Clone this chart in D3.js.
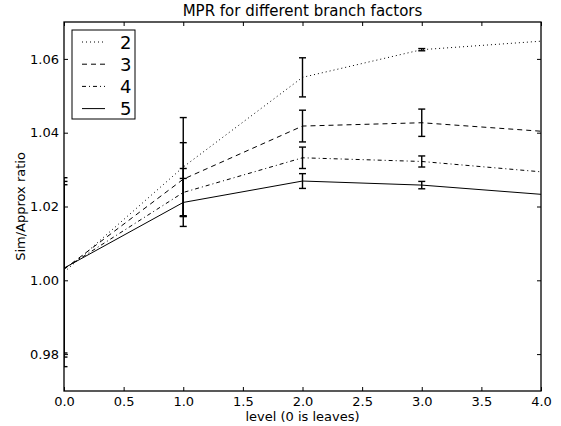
<!DOCTYPE html>
<html><head><meta charset="utf-8">
<script src="https://cdn.jsdelivr.net/npm/d3@7"></script>
<style>body{margin:0;background:#fff}svg{display:block}</style>
</head><body>
<svg id="c" width="561" height="426"></svg>
<script>
const levels = [0, 1, 2, 3, 4];
const seriesNames = ["2", "3", "4", "5"];
const values2 = [1.0022, 1.0307, 1.0550, 1.0625, 1.0648];
const values3 = [1.0030, 1.0274, 1.0418, 1.0427, 1.0404];
const values4 = [1.0031, 1.0238, 1.0332, 1.0322, 1.0294];
const values5 = [1.0033, 1.0211, 1.0269, 1.0258, 1.0233];
const errors2 = [0.0256, 0.0134, 0.0053, 0.0003, 0];
const errors3 = [0.0238, 0.0099, 0.0043, 0.0037, 0];
const errors4 = [0.0228, 0.0065, 0.0029, 0.0015, 0];
const errors5 = [0, 0.0065, 0.0020, 0.0010, 0];
const xTicks = [0, 0.5, 1, 1.5, 2, 2.5, 3, 3.5, 4];
const yTicks = [0.98, 1.00, 1.02, 1.04, 1.06];
const title = "MPR for different branch factors";
const xLabel = "level (0 is leaves)";
const yLabel = "Sim/Approx ratio";

const dashes = [ "1,3", "5,4", "4,3,1,3", null ];
const series = [
  {name: seriesNames[0], v: values2, e: errors2, dash: dashes[0]},
  {name: seriesNames[1], v: values3, e: errors3, dash: dashes[1]},
  {name: seriesNames[2], v: values4, e: errors4, dash: dashes[2]},
  {name: seriesNames[3], v: values5, e: errors5, dash: dashes[3]}
];

const L = 64, R = 541, T = 22, B = 391;
const svg = d3.select("#c");
const font = "DejaVu Sans";
const x = d3.scaleLinear().domain([0, 4]).range([L, R]);
const y = d3.scaleLinear().domain([0.97, 1.07]).range([B, T]);

svg.append("defs").append("clipPath").attr("id", "clip")
  .append("rect").attr("x", L).attr("y", T).attr("width", R - L).attr("height", B - T);

const plot = svg.append("g").attr("clip-path", "url(#clip)");
const line = d3.line().x((d, i) => x(levels[i])).y(d => y(d));

series.forEach(s => {
  plot.append("path").datum(s.v).attr("d", line)
    .attr("fill", "none").attr("stroke", "#000").attr("stroke-width", 1)
    .attr("stroke-dasharray", s.dash);
});
series.forEach(s => {
  const g = plot.append("g").attr("stroke", "#000").attr("stroke-width", 1.4);
  s.v.forEach((v, i) => {
    const e = s.e[i];
    if (e <= 0) return;
    const cx = x(levels[i]);
    g.append("line").attr("x1", cx).attr("x2", cx).attr("y1", y(v - e)).attr("y2", y(v + e));
    [v - e, v + e].forEach(c => {
      g.append("line").attr("x1", cx - 3.5).attr("x2", cx + 3.5).attr("y1", y(c)).attr("y2", y(c));
    });
  });
});

// axes
const fmtX = d3.format(".1f"), fmtY = d3.format(".2f");
const axB = svg.append("g").attr("transform", `translate(0,${B})`)
  .call(d3.axisBottom(x).tickValues(xTicks).tickFormat(fmtX).tickSize(-4).tickPadding(6));
const axT = svg.append("g").attr("transform", `translate(0,${T})`)
  .call(d3.axisTop(x).tickValues(xTicks).tickFormat("").tickSize(-4));
const axL = svg.append("g").attr("transform", `translate(${L},0)`)
  .call(d3.axisLeft(y).tickValues(yTicks).tickFormat(fmtY).tickSize(-4).tickPadding(5));
const axR = svg.append("g").attr("transform", `translate(${R},0)`)
  .call(d3.axisRight(y).tickValues(yTicks).tickFormat("").tickSize(-4));
[axB, axT, axL, axR].forEach(a => {
  a.select(".domain").remove();
  a.selectAll("line").attr("stroke", "#000").attr("stroke-width", 1);
  a.selectAll("text").attr("font-family", font).attr("font-size", 13).attr("fill", "#000");
});
svg.append("rect").attr("x", L).attr("y", T).attr("width", R - L).attr("height", B - T)
  .attr("fill", "none").attr("stroke", "#000").attr("stroke-width", 1.3);

svg.append("text").attr("x", (L + R) / 2).attr("y", 16).attr("text-anchor", "middle")
  .attr("font-family", font).attr("font-size", 15).text(title);
svg.append("text").attr("x", (L + R) / 2).attr("y", 421).attr("text-anchor", "middle")
  .attr("font-family", font).attr("font-size", 13).text(xLabel);
svg.append("text").attr("transform", `translate(25,${(T + B) / 2}) rotate(-90)`)
  .attr("text-anchor", "middle").attr("font-family", font).attr("font-size", 13).text(yLabel);

// legend
const lg = svg.append("g");
lg.append("rect").attr("x", 72).attr("y", 30).attr("width", 63).attr("height", 89)
  .attr("fill", "#fff").attr("stroke", "#000").attr("stroke-width", 1);
series.forEach((s, i) => {
  const yy = 42 + i * 22.2;
  lg.append("line").attr("x1", 82).attr("x2", 105).attr("y1", yy).attr("y2", yy)
    .attr("stroke", "#000").attr("stroke-width", 1).attr("stroke-dasharray", s.dash);
  lg.append("text").attr("x", 120).attr("y", yy + 6.5).attr("font-family", font)
    .attr("font-size", 18).text(s.name);
});
</script>
</body></html>
